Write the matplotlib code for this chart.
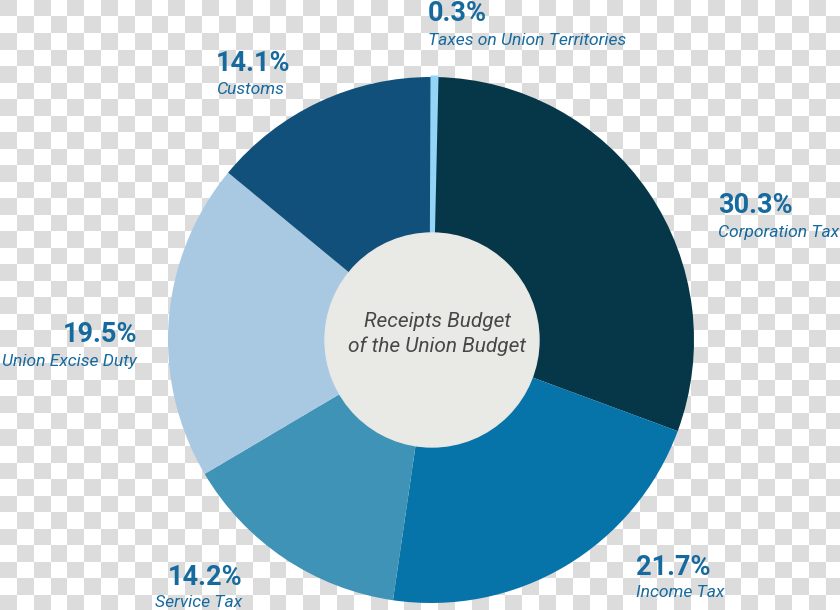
import matplotlib.pyplot as plt
from matplotlib.colors import ListedColormap
import numpy as np

plt.rcParams['font.family'] = ['Roboto', 'DejaVu Sans']

# data
labels = ['Corporation Tax', 'Income Tax', 'Service Tax',
          'Union Excise Duty', 'Customs', 'Taxes on Union Territories']
shares = [30.3, 21.7, 14.2, 19.5, 14.1, 0.3]
colors = ['#053748', '#0674a9', '#3e93b6', '#a9c9e3', '#12507c', '#94d4f6']
center_title = 'Receipts Budget\nof the Union Budget'

W, H = 840, 610
fig = plt.figure(figsize=(8.4, 6.1), dpi=100)
ax = fig.add_axes([0, 0, 1, 1])

# transparent-png style checkerboard behind everything
nx, ny = 50, 37
board = np.add.outer(np.arange(ny), np.arange(nx)) % 2
ax.imshow(board, cmap=ListedColormap(['#dcdcdc', '#ffffff']),
          extent=(0, nx * 16.85, H - ny * 16.52, H), origin='upper',
          interpolation='nearest', zorder=0)

cx, cy = 431, H - 340
wedges, _ = ax.pie(shares, colors=colors, startangle=88.7, counterclock=False,
                   radius=263, center=(cx, cy), wedgeprops=dict(linewidth=0))
# the tiny slice gets an outline in its own colour so it stays visible
wedges[-1].set_edgecolor(colors[-1])
wedges[-1].set_linewidth(2.2)
wedges[-1].set_zorder(3)
ax.add_patch(plt.Circle((cx + 1, cy), 107, color='#e9e9e5', zorder=5))
ax.text(437, H - 334, center_title, ha='center', va='center', fontsize=15,
        style='italic', color='#474747', linespacing=1.3, zorder=6)

# label layout: (x, pct baseline, name baseline, align)
spots = [(718, 213, 237, 'left'),
         (636, 575, 597, 'left'),
         (242, 585, 607, 'right'),
         (137, 342, 366, 'right'),
         (216, 71, 94, 'left'),
         (428, 21, 45, 'left')]
txt_color = '#176a9e'
for lab, val, (x, yp, yn, ha) in zip(labels, shares, spots):
    ax.text(x, H - yp, f'{val}%', ha=ha, va='baseline', fontsize=19.5,
            fontweight='bold', color=txt_color, zorder=6)
    ax.text(x, H - yn, lab, ha=ha, va='baseline', fontsize=12.6,
            style='italic', color=txt_color, zorder=6)

ax.set_xlim(0, W)
ax.set_ylim(0, H)
ax.set_aspect('equal')
ax.axis('off')

fig.savefig('out.png', dpi=100)
